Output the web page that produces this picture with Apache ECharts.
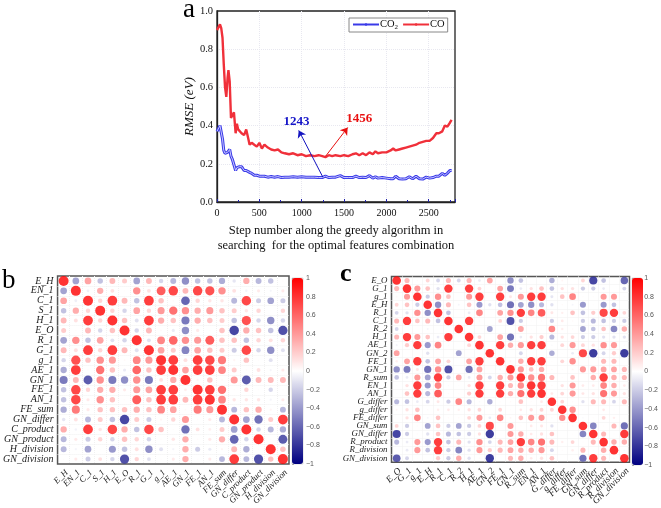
<!DOCTYPE html>
<html><head><meta charset="utf-8">
<style>html,body{margin:0;padding:0;background:#fff}#c{width:661px;height:508px}</style>
<script src="https://cdn.jsdelivr.net/npm/echarts@6/dist/echarts.min.js"></script>
</head><body><div id="c"></div>
<script>
const steps=[0,15,35,50,65,80,95,110,125,135,
150,165,180,200,220,235,250,265,290,320,
345,365,385,410,440,470,500,530,560,600,
640,680,720,760,800,850,900,950,1000,1050,
1100,1150,1200,1243,1280,1320,1360,1400,1456,1500,
1550,1600,1640,1680,1720,1760,1800,1840,1870,1900,
1950,2000,2050,2080,2110,2150,2190,2230,2270,2310,
2350,2390,2430,2470,2510,2550,2590,2620,2660,2690,
2720,2750,2770];
const rmseCO=[.90,.90,.93,.91,.86,.72,.60,.55,.65,.69,
.63,.44,.43,.47,.36,.41,.38,.39,.36,.35,
.38,.34,.30,.31,.30,.29,.31,.28,.30,.285,
.275,.27,.275,.26,.255,.25,.255,.245,.25,.24,
.245,.24,.245,.24,.235,.245,.24,.245,.24,.245,
.24,.25,.255,.245,.255,.245,.26,.25,.265,.255,
.26,.26,.27,.28,.27,.275,.28,.285,.29,.295,
.30,.31,.315,.32,.32,.335,.36,.36,.37,.40,
.395,.415,.43];
const rmseCO2=[.37,.37,.40,.39,.33,.27,.255,.25,.26,.255,
.275,.24,.225,.225,.165,.18,.19,.185,.185,.165,
.165,.155,.155,.15,.14,.14,.135,.135,.135,.13,
.133,.13,.133,.128,.13,.13,.132,.13,.132,.13,
.13,.13,.128,.128,.135,.128,.13,.13,.138,.128,
.128,.128,.135,.128,.13,.128,.138,.125,.132,.125,
.128,.125,.122,.122,.135,.122,.12,.122,.132,.122,
.135,.122,.12,.13,.125,.128,.135,.135,.15,.14,
.15,.165,.165];
const arrowCO2=[[1250,.13],[965,.375]];
const arrowCO=[[1281,.239],[1543,.39]];
const noteCO2=[938,.42,'1243'];
const noteCO=[1680,.437,'1456'];
const labelsB=['E_H','EN_1','C_1','S_1','H_1','E_O','R_1','G_1','g_1','AE_1','GN_1','FE_1','AN_1','FE_sum','GN_differ','C_product','GN_product','H_division','GN_division'];
const matrixB=[
[1,-.45,.45,-.3,.35,.25,-.45,.35,-.2,-.35,-.55,-.3,-.3,-.4,-.12,.4,-.35,-.3,.02],
[-.45,1,-.08,.4,.15,.02,.55,.15,.8,.9,.35,.9,.85,.55,.15,-.06,.1,-.05,.1],
[.45,-.08,1,.2,.95,.35,-.3,.95,.3,.03,-.75,.2,.12,.12,-.35,.9,-.25,-.45,-.25],
[-.3,.4,.2,1,.2,-.2,.45,.2,.5,.7,.55,.4,.5,.3,.25,.12,.2,.01,.2],
[.35,.15,.95,.2,1,.3,-.15,.95,.4,.3,-.65,.4,.3,.25,-.3,.85,-.2,-.55,-.2],
[.25,.02,.35,-.2,.3,1,-.2,.35,.03,-.1,-.55,.1,.02,.3,-.9,.4,.3,-.3,-.85],
[-.45,.55,-.3,.45,-.15,-.2,1,-.15,.6,.75,.55,.5,.8,.3,.3,-.3,.2,.15,.2],
[.35,.15,.95,.2,.95,.35,-.15,1,.45,.25,-.6,.45,.3,.25,-.25,.9,-.2,-.55,-.15],
[-.2,.85,.3,.55,.5,.03,.6,.5,1,.95,.15,.95,.9,.65,.05,.3,.02,-.15,.02],
[-.4,.95,.02,.7,.3,-.1,.75,.3,.95,1,.45,.95,.95,.6,.25,.02,.15,-.05,.1],
[-.65,.35,-.8,.55,-.65,-.55,.55,-.65,.15,.4,1,.05,.3,.03,.5,-.8,.35,.35,.35],
[-.3,.9,.2,.4,.4,.1,.5,.45,.95,.95,.08,1,.95,.7,.02,.2,.02,-.2,.02],
[-.3,.9,.1,.55,.3,.02,.8,.3,.95,.95,.35,.95,1,.6,.12,.12,.12,-.05,.1],
[-.4,.65,.1,.3,.3,.3,.4,.3,.6,.45,.03,.65,.5,1,-.35,.3,.4,.05,-.35],
[-.12,.15,-.35,.25,-.3,-.9,.25,-.25,.05,.2,.5,.02,.1,-.35,1,-.45,-.7,.25,.95],
[.4,-.06,.95,.12,.9,.4,-.3,.9,.3,.02,-.7,.15,.08,.25,-.45,1,-.2,-.35,-.4],
[-.35,.1,-.25,.2,-.2,.3,.2,-.2,.02,.12,.4,.02,.1,.4,-.75,-.2,1,.02,-.8],
[-.35,-.05,-.45,.01,-.5,-.3,.15,-.55,-.15,-.05,.4,-.25,-.1,.05,.35,-.4,.02,1,.3],
[.02,.1,-.25,.15,-.2,-.85,.2,-.15,.02,.1,.4,.02,.1,-.35,.95,-.35,-.85,.3,1]];
const labelsC=['E_O','G_1','g_1','E_H','R_1','C_1','R_2','H_1','AE_1','GN_2','FE_1','GN_1','R_sum','EN_1','AN_1','G_differ','g_differ','FE_differ','GN_sum','GN_differ','R_product','R_division','GN_division'];
const matrixC=[
[1,.35,.03,.2,-.2,.35,-.2,.35,-.1,.45,0,-.55,-.3,0,0,-.4,.05,0,.2,-.9,-.3,0,-.75],
[.35,1,.5,.3,-.15,.95,0,.95,.2,0,.45,-.65,-.1,.15,.3,-.3,.15,.15,-.25,-.25,-.1,0,-.2],
[.04,.5,1,-.25,.55,.3,0,.5,.95,0,.95,.12,.5,.95,.95,-.12,.3,.6,.02,.02,.5,.5,.02],
[.2,.3,-.25,1,-.55,.35,-.05,.3,-.5,-.15,-.3,-.7,-.45,-.55,-.35,-.15,.03,-.05,-.5,.02,-.5,-.3,0],
[-.2,-.15,.55,-.55,1,-.3,0,-.1,.6,0,.45,.55,.95,.6,.8,.12,.08,.3,-.3,.25,.9,.95,.2],
[.35,.95,.3,.35,-.3,1,0,.95,.03,0,.2,-.85,-.25,.02,.03,-.25,.1,.03,-.25,-.35,-.3,-.25,-.25],
[-.2,0,0,-.05,0,0,1,0,0,-.45,0,0,.45,.02,.02,.6,.08,.03,-.45,-.3,.3,-.6,.4],
[.35,.95,.5,.3,-.1,.95,0,1,.2,0,.45,-.7,-.1,.15,.25,-.35,.15,.2,-.25,-.25,-.15,-.15,-.15],
[-.06,.25,.95,-.5,.6,.03,0,.2,1,0,.95,.4,.5,.95,.95,-.03,.2,.5,.2,.15,.55,.5,.03],
[.45,0,0,-.15,0,0,-.45,0,0,1,0,0,-.2,0,0,-.4,.02,-.1,.9,-.95,-.2,.25,-.95],
[.08,.45,.95,-.3,.45,.2,0,.45,.95,0,1,.05,.4,.95,.95,.02,.2,.55,0,0,.35,.35,0],
[-.55,-.65,.12,-.7,.55,-.85,0,-.7,.45,0,.05,1,.5,.3,.4,.03,.02,.05,.5,.5,.45,.45,.35],
[-.3,-.1,.5,-.45,.95,-.25,.45,-.1,.5,-.2,.4,.5,1,.55,.7,.35,.02,.3,0,.4,.95,.4,.35],
[.02,.15,.95,-.5,.6,.03,.02,.15,.95,0,.95,.35,.55,1,.95,.03,.15,.5,.1,.1,.6,.4,.1],
[.02,.3,.95,-.35,.8,.03,.02,.25,.95,0,.95,.4,.7,.95,1,.1,.2,.5,.12,.15,.7,.5,.15],
[-.35,-.3,-.1,-.2,.12,-.25,.6,-.35,-.03,-.4,.02,.03,.3,.02,.1,1,.2,.03,-.15,.35,.35,-.2,.35],
[.05,.15,.3,.03,.08,.1,.08,.15,.2,.02,.2,.02,.1,.15,.2,.2,1,.55,.02,0,.1,.02,0],
[0,.15,.6,-.05,.3,.03,.03,.2,.5,-.1,.6,.05,.3,.5,.5,.03,.55,1,-.03,.02,.2,.08,.02],
[.2,-.25,.03,-.45,.3,-.25,-.45,-.25,.2,.9,0,.5,.02,.1,.12,-.15,.02,-.03,1,-.6,.02,.35,-.7],
[-.9,-.25,.03,-.15,.3,-.35,-.3,-.25,.15,-.95,0,.5,.4,.1,.15,.3,0,.02,-.6,1,.35,.02,.95],
[-.35,-.1,.5,-.5,.95,-.3,.35,-.15,.55,-.2,.35,.45,.95,.6,.7,.35,.08,.2,.02,.35,1,.4,.4],
[0,-.1,.5,-.3,.95,-.25,-.6,-.15,.5,.25,.35,.45,.4,.4,.5,-.2,.02,.08,.35,.02,.4,1,-.03],
[-.8,-.2,.02,0,.25,-.25,.4,-.15,.03,-.95,0,.35,.4,.1,.15,.3,0,.02,-.7,.95,.35,-.03,1]];

const serif='"Liberation Serif","Times New Roman",serif';
const cells=m=>m.flatMap((r,y)=>r.map((v,x)=>[x,y,v]));
const pairs=(xs,ys)=>xs.map((x,i)=>[x,ys[i]]);
const frame={show:true,borderColor:'#555',borderWidth:1.5,backgroundColor:'#fff'};
const gridB={left:53,top:276,width:236,height:189.5,...frame};
const gridC={left:391.5,top:276.5,width:238,height:190,...frame};
const barB={left:292,top:278,width:11,height:186};
const barC={left:632,top:278,width:11,height:187};
const cellLine={show:true,interval:0,showMinLine:false,showMaxLine:false,lineStyle:{color:'#f1f1f1',type:'dotted',width:1}};

function catX(names,g,size){return {type:'category',gridIndex:g,data:names,boundaryGap:true,
  axisLine:{show:false},axisTick:{show:false},splitLine:cellLine,
  axisLabel:{interval:0,rotate:45,verticalAlign:'top',fontFamily:serif,fontStyle:'italic',fontSize:size,color:'#222',margin:4,hideOverlap:false}};}
function catY(names,g,size){return {type:'category',gridIndex:g,data:names,inverse:true,boundaryGap:true,
  axisLine:{show:false},axisTick:{show:false},splitLine:cellLine,
  axisLabel:{interval:0,fontFamily:serif,fontStyle:'italic',fontSize:size,color:'#222',margin:4,hideOverlap:false}};}
function barX(g){return {type:'value',gridIndex:g,show:false,min:0,max:1};}
function barY(g){return {type:'value',gridIndex:g,position:'right',min:-1,max:1,interval:.2,splitLine:{show:false},
  axisLine:{show:false},axisTick:{show:true,length:2,lineStyle:{color:'#888',width:.7}},
  axisLabel:{fontFamily:'"Liberation Sans",Arial,sans-serif',fontSize:7,color:'#555',margin:3,
    formatter:v=>{const r=Math.round(v*10)/10;return r<0?'\u2212'+(-r):String(r);}}};}
function scatter(m,xa,ya,maxD){return {type:'scatter',xAxisIndex:xa,yAxisIndex:ya,data:cells(m),
  symbolSize:d=>Math.max(0.01,maxD*Math.sqrt(Math.abs(d[2]))),encode:{x:0,y:1},silent:true};}

const option={animation:false,backgroundColor:'#fff',
title:[
 {text:'a',left:183,top:-4,padding:0,textStyle:{fontFamily:serif,fontSize:27,fontWeight:'normal',color:'#000'}},
 {text:'b',left:2,top:267,padding:0,textStyle:{fontFamily:serif,fontSize:27,fontWeight:'normal',color:'#000'}},
 {text:'c',left:340,top:261,padding:0,textStyle:{fontFamily:serif,fontSize:26,fontWeight:'bold',color:'#000'}}
],
legend:{left:349,top:18,width:97,height:16,padding:[1,3,1,3],itemGap:4,itemWidth:26,itemHeight:3,
  borderColor:'#888',borderWidth:1,backgroundColor:'#fff',data:['CO2','CO'],
  formatter:n=>n==='CO2'?'CO{s|2}':n,
  textStyle:{fontFamily:serif,fontSize:10.5,color:'#111',padding:[0,0,0,-4],rich:{s:{fontFamily:serif,fontSize:7,verticalAlign:'bottom',padding:[6,0,0,0]}}}},
grid:[
 {left:217,top:11,width:238,height:191,show:true,borderColor:'#222',borderWidth:1.3,backgroundColor:'#fff'},
 gridB,gridC,
 {...barB,show:true,borderColor:'#ccc',borderWidth:.7},{...barC,show:true,borderColor:'#ccc',borderWidth:.7}
],
xAxis:[
 {type:'value',gridIndex:0,min:0,max:2810,interval:500,
  name:'Step number along the greedy algorithm in\nsearching  for the optimal features combination',
  nameLocation:'middle',nameGap:16,nameTextStyle:{fontFamily:serif,fontSize:12.5,color:'#111',lineHeight:15,padding:[4,0,0,0]},
  axisLine:{lineStyle:{color:'#222',width:1.3}},
  axisTick:{show:true,inside:true,length:3,lineStyle:{color:'#2222aa',width:1}},
  minorTick:{show:true,splitNumber:2,length:2,lineStyle:{color:'#2222aa'}},
  splitLine:{show:true,showMinLine:false,showMaxLine:false,lineStyle:{color:'#e8e8f0',type:'dotted',width:1}},
  axisLabel:{fontFamily:serif,fontSize:10,color:'#111',margin:6,showMaxLabel:false,formatter:v=>String(v)}},
 catX(labelsB,1,8.8),catX(labelsC,2,9.3),barX(3),barX(4)
],
yAxis:[
 {type:'value',gridIndex:0,min:0,max:1,interval:.2,name:'RMSE (eV)',nameLocation:'middle',nameGap:18,
  nameTextStyle:{fontFamily:serif,fontStyle:'italic',fontSize:13,color:'#111'},
  axisLine:{lineStyle:{color:'#222',width:1.3}},axisTick:{show:false},
  splitLine:{show:true,showMinLine:false,showMaxLine:false,lineStyle:{color:'#e8e8f0',type:'dotted',width:1}},
  axisLabel:{fontFamily:serif,fontSize:10.5,color:'#111',margin:4,formatter:v=>v.toFixed(1)}},
 catY(labelsB,1,10),catY(labelsC,2,8.9),barY(3),barY(4)
],
visualMap:[
 {type:'continuous',seriesIndex:[3],dimension:2,min:-1,max:1,left:barB.left,top:barB.top,itemWidth:barB.width,itemHeight:barB.height,padding:0,showLabel:false,calculable:false,hoverLink:false,realtime:false,inRange:{color:['#000080','#ffffff','#ff0000']}},
 {type:'continuous',seriesIndex:[4],dimension:2,min:-1,max:1,left:barC.left,top:barC.top,itemWidth:barC.width,itemHeight:barC.height,padding:0,showLabel:false,calculable:false,hoverLink:false,realtime:false,inRange:{color:['#000080','#ffffff','#ff0000']}}
],
series:[
 {name:'CO2',type:'line',xAxisIndex:0,yAxisIndex:0,data:pairs(steps,rmseCO2),symbol:'none',silent:true,
  color:'#3a3ae8',lineStyle:{color:'#3a3ae8',width:3},z:3,
  markLine:{silent:true,symbol:['none','arrow'],symbolSize:7,label:{show:false},lineStyle:{color:'#1414c0',width:1,type:'solid'},
    data:[[{coord:arrowCO2[0]},{coord:arrowCO2[1]}]]},
  markPoint:{silent:true,symbol:'circle',symbolSize:0,label:{show:true,formatter:'{b}',position:'inside',fontFamily:serif,fontSize:13,fontWeight:'bold',color:'#1414c8'},
    data:[{name:noteCO2[2],coord:[noteCO2[0],noteCO2[1]]}]}},
 {name:'CO2 core',type:'line',xAxisIndex:0,yAxisIndex:0,data:pairs(steps,rmseCO2),symbol:'none',silent:true,
  lineStyle:{color:'#c8c8ff',width:1},z:4},
 {name:'CO',type:'line',xAxisIndex:0,yAxisIndex:0,data:pairs(steps,rmseCO),symbol:'none',silent:true,
  color:'#f0303a',lineStyle:{color:'#f0303a',width:2.4},z:3,
  markLine:{silent:true,symbol:['none','arrow'],symbolSize:7,label:{show:false},lineStyle:{color:'#e81010',width:1,type:'solid'},
    data:[[{coord:arrowCO[0]},{coord:arrowCO[1]}]]},
  markPoint:{silent:true,symbol:'circle',symbolSize:0,label:{show:true,formatter:'{b}',position:'inside',fontFamily:serif,fontSize:13,fontWeight:'bold',color:'#e81010'},
    data:[{name:noteCO[2],coord:[noteCO[0],noteCO[1]]}]}},
 scatter(matrixB,1,1,10),
 scatter(matrixC,2,2,8.6)
]};
echarts.init(document.getElementById('c'),null,{renderer:'canvas'}).setOption(option);
</script></body></html>
